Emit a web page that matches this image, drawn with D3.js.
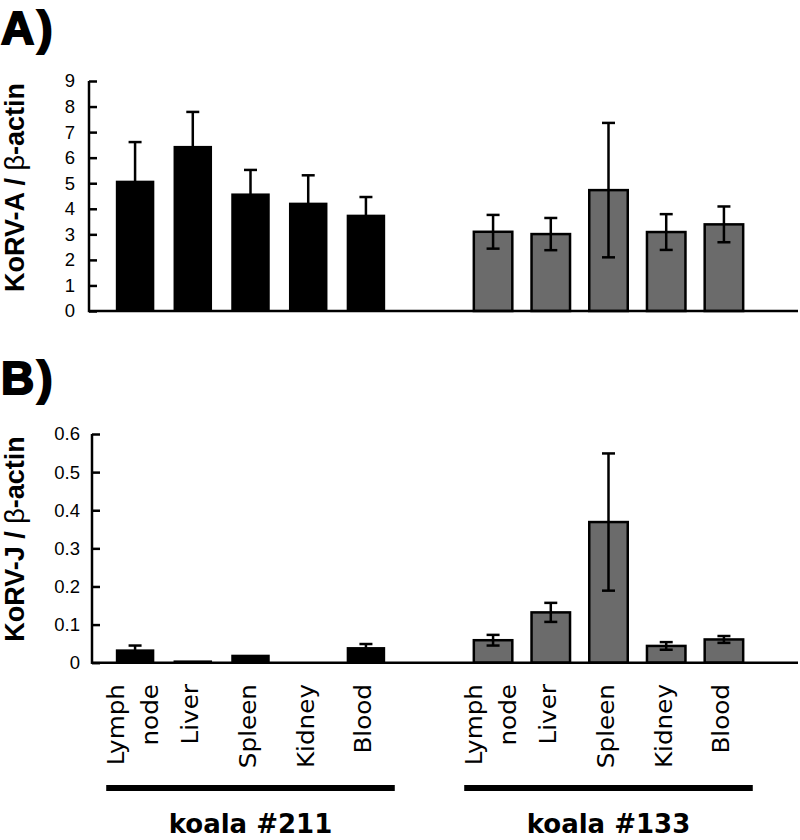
<!DOCTYPE html>
<html>
<head>
<meta charset="utf-8">
<script src="https://cdn.jsdelivr.net/npm/d3@7"></script>
<style>
  html, body { margin: 0; padding: 0; background: #fff; }
  svg { display: block; }
</style>
</head>
<body>
<svg id="chart" width="800" height="840"></svg>
<script>
// ---------- data ----------
const tissues = ["Lymph node", "Liver", "Spleen", "Kidney", "Blood"];
const koalas = ["koala #211", "koala #133"];

const korvA_211    = [5.10, 6.46, 4.60, 4.24, 3.77];
const korvA_211_sd = [1.51, 1.33, 0.92, 1.07, 0.69];
const korvA_133    = [3.10, 3.01, 4.73, 3.09, 3.39];
const korvA_133_sd = [0.66, 0.63, 2.63, 0.70, 0.70];

const korvJ_211    = [0.035, 0.006, 0.021, 0.000, 0.041];
const korvJ_211_sd = [0.010, 0.000, 0.000, 0.000, 0.008];
const korvJ_133    = [0.059, 0.132, 0.369, 0.044, 0.061];
const korvJ_133_sd = [0.014, 0.025, 0.180, 0.010, 0.009];

const ticksA = [0, 1, 2, 3, 4, 5, 6, 7, 8, 9];
const ticksB = [0, 0.1, 0.2, 0.3, 0.4, 0.5, 0.6];
const tickLabelsB = ["0", "0.1", "0.2", "0.3", "0.4", "0.5", "0.6"];

const panelLetters = ["A)", "B)"];
const yTitles = ["KoRV-A / ", "KoRV-J / "];

// ---------- layout ----------
const svg = d3.select("#chart");
const FONT = "'Liberation Sans', Arial, sans-serif";
const CAT_FONT = "'DejaVu Sans', Verdana, sans-serif";
const GRAY = "#6b6b6b";
const SW = 2.5;
const X_RIGHT = 798;

const xOuter = d3.scaleBand().domain(koalas).range([71.5, 787.5]);
const xInner = d3.scaleBand().domain(tissues).range([0, xOuter.bandwidth()])
  .paddingInner(0.333).paddingOuter(0.768);
const fills = { "koala #211": "#000", "koala #133": GRAY };

const panels = [
  { letter: panelLetters[0], letterY: 44, title: yTitles[0], titleY: 187.5,
    axisX: 89, y: d3.scaleLinear().domain([0, 9]).range([311, 81]),
    ticks: ticksA, tickFmt: d => String(d), pad: 14,
    series: { "koala #211": [korvA_211, korvA_211_sd], "koala #133": [korvA_133, korvA_133_sd] } },
  { letter: panelLetters[1], letterY: 394, title: yTitles[1], titleY: 539,
    axisX: 92, y: d3.scaleLinear().domain([0, 0.6]).range([662.7, 434]),
    ticks: ticksB, tickFmt: (d, i) => tickLabelsB[i], pad: 12,
    series: { "koala #211": [korvJ_211, korvJ_211_sd], "koala #133": [korvJ_133, korvJ_133_sd] } }
];

panels.forEach(p => {
  const g = svg.append("g");

  // panel letter
  g.append("text").attr("x", 1).attr("y", p.letterY)
    .attr("font-family", FONT).attr("font-weight", "bold").attr("font-size", 46)
    .attr("letter-spacing", 3)
    .attr("stroke", "#000").attr("stroke-width", 2).attr("fill", "#000")
    .text(p.letter);

  // y title
  const t = g.append("text")
    .attr("transform", `translate(24,${p.titleY}) rotate(-90)`)
    .attr("text-anchor", "middle")
    .attr("font-family", FONT).attr("font-weight", "bold").attr("font-size", 27)
    .attr("fill", "#000");
  t.append("tspan").text(p.title);
  t.append("tspan").attr("font-weight", "normal").text("β");
  t.append("tspan").text("-actin");

  // bars
  koalas.forEach(k => {
    const [vals, sds] = p.series[k];
    const data = tissues.map((c, i) => ({ c, v: vals[i], sd: sds[i] }));
    const gx = xOuter(k);
    const bars = g.append("g");
    bars.selectAll("rect").data(data).join("rect")
      .attr("x", d => gx + xInner(d.c))
      .attr("width", xInner.bandwidth())
      .attr("y", d => p.y(d.v))
      .attr("height", d => p.y(0) - p.y(d.v))
      .attr("fill", fills[k])
      .attr("stroke", k === "koala #133" ? "#000" : "none")
      .attr("stroke-width", SW);

    const eb = g.append("g").attr("stroke", "#000").attr("stroke-width", SW);
    data.filter(d => d.sd > 0).forEach(d => {
      const cx = gx + xInner(d.c) + xInner.bandwidth() / 2;
      const y1 = p.y(d.v + d.sd), y2 = p.y(d.v - d.sd);
      eb.append("line").attr("x1", cx).attr("x2", cx).attr("y1", y1).attr("y2", y2);
      [y1, y2].forEach(yy => eb.append("line")
        .attr("x1", cx - 6.5).attr("x2", cx + 6.5).attr("y1", yy).attr("y2", yy));
    });
  });

  // y axis
  const axis = d3.axisLeft(p.y).tickValues(p.ticks).tickFormat(p.tickFmt)
    .tickSizeInner(-8).tickSizeOuter(0).tickPadding(p.pad);
  const ag = g.append("g").attr("transform", `translate(${p.axisX},0)`).call(axis);
  ag.select(".domain").remove();
  ag.selectAll(".tick line").attr("stroke", "#000").attr("stroke-width", SW);
  ag.selectAll(".tick text").attr("font-family", FONT).attr("font-size", 18.5).attr("fill", "#000");
  g.append("line").attr("x1", p.axisX).attr("x2", p.axisX)
    .attr("y1", p.y(0) + SW / 2).attr("y2", p.y.range()[1])
    .attr("stroke", "#000").attr("stroke-width", SW);
  // baseline
  g.append("line").attr("x1", p.axisX).attr("x2", X_RIGHT)
    .attr("y1", p.y(0)).attr("y2", p.y(0))
    .attr("stroke", "#000").attr("stroke-width", SW);
});

// category labels
const catG = svg.append("g");
koalas.forEach(k => {
  tissues.forEach(c => {
    const cx = xOuter(k) + xInner(c) + xInner.bandwidth() / 2 - 3;
    const lines = c.split(" ");
    const lh = 34;
    const t = catG.append("text")
      .attr("transform", `translate(${cx},684) scale(1,1.05) rotate(-90)`)
      .attr("text-anchor", "end")
      .attr("font-family", CAT_FONT).attr("font-size", 23.5).attr("fill", "#000");
    lines.forEach((ln, i) => {
      t.append("tspan").attr("x", 0)
        .attr("y", (i - (lines.length - 1) / 2) * lh)
        .attr("dy", "0.36em").text(ln);
    });
  });
  // group bar
  const step = xInner.step();
  const first = xOuter(k) + xInner(tissues[0]) + xInner.bandwidth() / 2 - step / 2;
  const last = xOuter(k) + xInner(tissues[tissues.length - 1]) + xInner.bandwidth() / 2 + step / 2;
  catG.append("line").attr("x1", first).attr("x2", last).attr("y1", 788).attr("y2", 788)
    .attr("stroke", "#000").attr("stroke-width", 6);
  catG.append("text")
    .attr("x", xOuter(k) + xOuter.bandwidth() / 2).attr("y", 833)
    .attr("text-anchor", "middle")
    .attr("font-family", CAT_FONT).attr("font-weight", "bold").attr("font-size", 26)
    .attr("fill", "#000").text(k);
});
</script>
</body>
</html>
